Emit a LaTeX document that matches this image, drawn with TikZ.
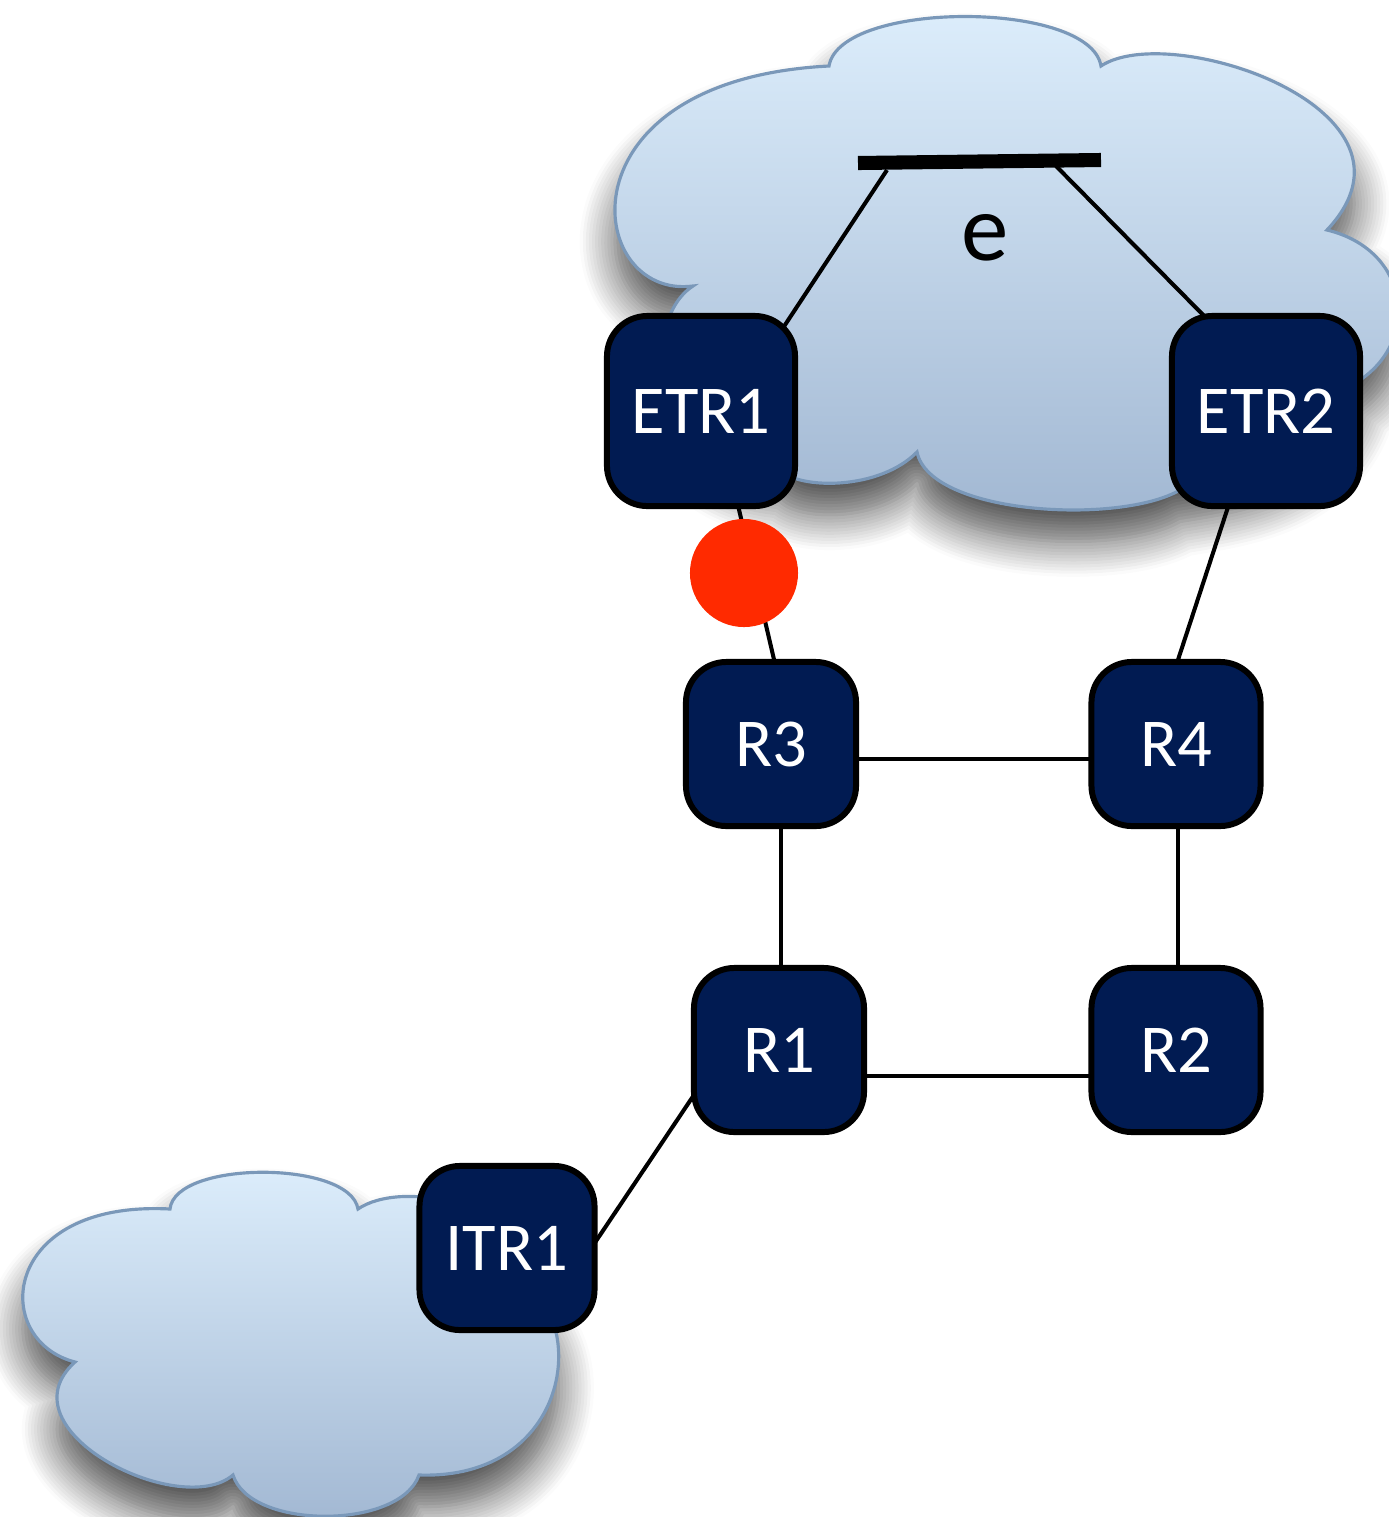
\documentclass[tikz,border=0pt]{standalone}
\usepackage{fontspec}
\setmainfont{Carlito}
\usetikzlibrary{calc,shadows.blur}
\definecolor{navy}{RGB}{1,27,82}
\definecolor{cloudtop}{RGB}{221,238,252}
\definecolor{cloudbot}{RGB}{161,183,210}
\definecolor{cloudedge}{RGB}{122,152,185}
\definecolor{dotred}{RGB}{255,42,0}
\pgfdeclarelayer{bg}
\pgfdeclarelayer{wires}
\pgfsetlayers{bg,wires,main}
\tikzset{
  router/.style={draw=black, line width=1.7pt, fill=navy, rounded corners=11.5pt,
    text=white, font=\fontsize{19.5}{22}\selectfont, inner sep=0pt},
  cloudshape/.style={draw=cloudedge, line width=0.9pt, top color=cloudtop, bottom color=cloudbot,
    blur shadow={shadow xshift=0pt, shadow yshift=-9pt, shadow blur radius=10pt, shadow blur steps=12, shadow opacity=70}},
  wire/.style={draw=black, line width=1.15pt},
  busbar/.style={draw=black, line width=4pt},
}
\begin{document}
\begin{tikzpicture}[x=0.01cm, y=-0.01cm]
\useasboundingbox (0,0) rectangle (1389,1517);

% nodes
\node[router, minimum width=1.88cm, minimum height=1.90cm] (ETR1) at (701,411) {ETR1};
\node[router, minimum width=1.88cm, minimum height=1.90cm] (ETR2) at (1266,411) {ETR2};
\node[router, minimum width=1.70cm, minimum height=1.64cm] (R3) at (771,744) {R3};
\node[router, minimum width=1.69cm, minimum height=1.64cm] (R4) at (1176,744) {R4};
\node[router, minimum width=1.70cm, minimum height=1.64cm] (R1) at (779,1050) {R1};
\node[router, minimum width=1.69cm, minimum height=1.64cm] (R2) at (1176,1050) {R2};
\node[router, minimum width=1.75cm, minimum height=1.64cm] (ITR1) at (507,1248) {ITR1};

\node[font=\fontsize{27}{30}\selectfont, inner sep=0pt] (elabel) at (985,238) {e};

\coordinate (barL) at (858,163);
\coordinate (barR) at (1101,160);
\coordinate (b1) at (887,170);
\coordinate (b2) at (1056,166);

% clouds
\begin{pgfonlayer}{bg}
\path[cloudshape] (829,66) .. controls (840,0) and (1090,0) .. (1101,66)
  .. controls (1170,20) and (1440,110) .. (1327,230)
  .. controls (1410,250) and (1420,340) .. (1360,380)
  .. controls (1330,470) and (1240,480) .. (1180,490)
  .. controls (1120,525) and (930,515) .. (917,452)
  .. controls (880,490) and (800,490) .. (780,470)
  .. controls (650,460) and (640,320) .. (693,286)
  .. controls (585,300) and (555,80) .. (829,66) -- cycle;
\path[cloudshape] (170,1209) .. controls (175,1160) and (350,1160) .. (358,1209)
  .. controls (400,1180) and (520,1200) .. (520,1280)
  .. controls (590,1320) and (570,1480) .. (419,1475)
  .. controls (400,1530) and (250,1530) .. (233,1475)
  .. controls (180,1520) and (0,1430) .. (75,1362)
  .. controls (-10,1340) and (0,1200) .. (170,1209) -- cycle;
\end{pgfonlayer}

% connectors
\begin{pgfonlayer}{wires}
\draw[busbar] (barL) -- (barR);
\draw[wire] (b1) -- ($(ETR1.center)+(80,-80)$);
\draw[wire] (b2) -- ($(ETR2.center)+(-48,-81)$);
\draw[wire] ($(ETR1.center)+(36,90)$) -- ($(R3.center)+(5,-76)$);
\draw[wire] ($(ETR2.center)+(-36,90)$) -- ($(R4.center)+(0,-78)$);
\draw[wire] ($(R3.center)+(0,15)$) -- ($(R4.center)+(0,15)$);
\draw[wire] ($(R3.center)+(10,0)$) -- ($(R1.center)+(2,0)$);
\draw[wire] ($(R4.center)+(2,0)$) -- ($(R2.center)+(2,0)$);
\draw[wire] ($(R1.center)+(0,26)$) -- ($(R2.center)+(0,26)$);
\draw[wire] ($(R1.center)+(-73,27)$) -- ($(ITR1.center)+(83,2)$);
\end{pgfonlayer}

\node[circle, fill=dotred, minimum size=1.08cm, inner sep=0pt] (dot) at (744,573) {};
\end{tikzpicture}
\end{document}
